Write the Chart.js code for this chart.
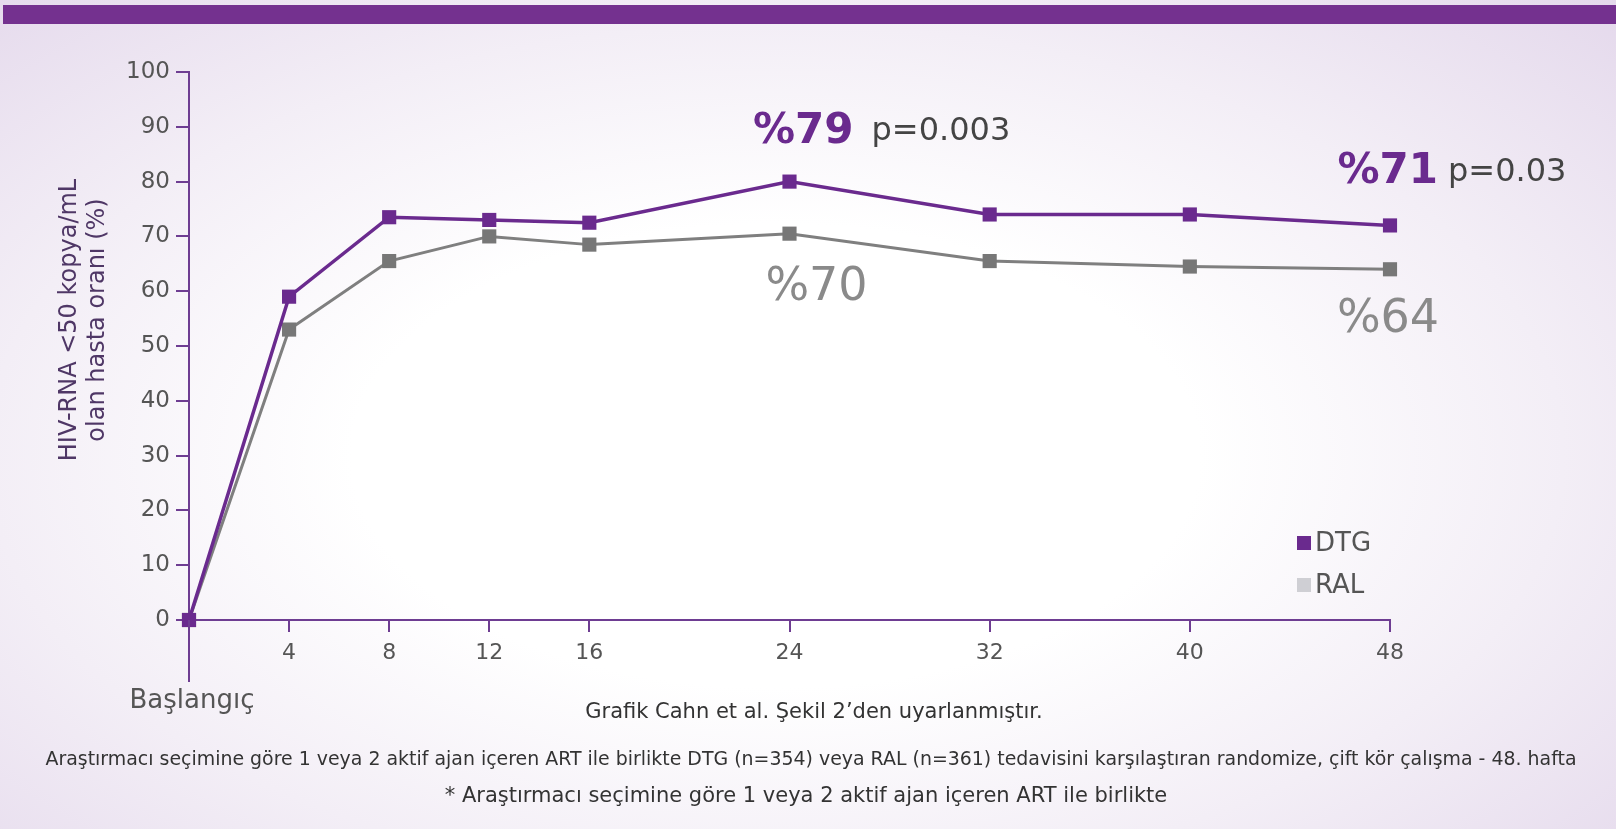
<!DOCTYPE html>
<html>
<head>
<meta charset="utf-8">
<script src="https://cdn.jsdelivr.net/npm/chart.js@4/dist/chart.umd.min.js"></script>
<style>
   html, body { margin: 0; padding: 0; }
   body {
      width: 1616px; height: 829px; overflow: hidden; position: relative;
      background: radial-gradient(ellipse 75% 80% at 48% 55%, #ffffff 35%, #f3eef6 65%, #e3d7eb 100%);
   }
   .band { position: absolute; left: 3px; top: 5px; width: 1613px; height: 19px; background: #74318f; }
   canvas { position: absolute; left: 0; top: 0; }
</style>
</head>
<body>
<div class="band"></div>
<canvas id="chart" width="1616" height="829"></canvas>
<script>
const
   weeks = [0, 4, 8, 12, 16, 24, 32, 40, 48],
   weekTicks = [0, 4, 8, 12, 16, 24, 32, 40, 48],
   dtgValues = [0, 59, 73.5, 73, 72.5, 80, 74, 74, 72],
   ralValues = [0, 53, 65.5, 70, 68.5, 70.5, 65.5, 64.5, 64],
   startLabel = 'Başlangıç',
   yTitle = ['HIV-RNA <50 kopya/mL', 'olan hasta oranı (%)'],
   notes = [
      'Grafik Cahn et al. Şekil 2’den uyarlanmıştır.',
      'Araştırmacı seçimine göre 1 veya 2 aktif ajan içeren ART ile birlikte DTG (n=354) veya RAL (n=361) tedavisini karşılaştıran randomize, çift kör çalışma - 48. hafta',
      '* Araştırmacı seçimine göre 1 veya 2 aktif ajan içeren ART ile birlikte'
   ];

const FONT = '"DejaVu Sans", sans-serif';
const axisColor = '#6e3d92';
const textColor = '#555555';
const dtgColor = '#6a2a8e';
const ralColor = '#7f7f7f';

// Metinler, eksen uzantısı ve lejant
const extras = {
   id: 'extras',
   afterDatasetsDraw(chart) {
      const { ctx, chartArea, scales: { x, y } } = chart;
      ctx.save();

      // Başlangıç çizgisi aşağı uzanıyor
      const x0 = x.getPixelForValue(0);
      ctx.strokeStyle = axisColor;
      ctx.lineWidth = 2;
      ctx.beginPath();
      ctx.moveTo(x0, chartArea.bottom);
      ctx.lineTo(x0, chartArea.bottom + 62);
      ctx.stroke();

      ctx.fillStyle = textColor;
      ctx.font = '26px ' + FONT;
      ctx.textAlign = 'center';
      ctx.textBaseline = 'middle';
      ctx.fillText(startLabel, x0 + 3, chartArea.bottom + 81);

      // Y ekseni başlığı
      ctx.save();
      ctx.translate(70, 320);
      ctx.rotate(-Math.PI / 2);
      ctx.fillStyle = '#4f3766';
      ctx.font = '24px ' + FONT;
      ctx.fillText(yTitle[0], 0, 0, 292);
      ctx.fillText(yTitle[1], 0, 28, 264);
      ctx.restore();

      // Hafta 24 ve 48 etiketleri
      const d = chart.data.datasets;
      const pt = (ds, w) => ({ px: x.getPixelForValue(w), py: y.getPixelForValue(ds.data.find(p => p.x === w).y) });

      let p = pt(d[0], 24);
      ctx.textAlign = 'right';
      ctx.fillStyle = dtgColor;
      ctx.font = 'bold 42px ' + FONT;
      ctx.fillText('%79', p.px + 64, p.py - 50);
      ctx.textAlign = 'left';
      ctx.fillStyle = '#444';
      ctx.font = '32px ' + FONT;
      ctx.fillText('p=0.003', p.px + 82, p.py - 50);

      p = pt(d[1], 24);
      ctx.textAlign = 'center';
      ctx.fillStyle = '#8a8a8a';
      ctx.font = '46px ' + FONT;
      ctx.fillText('%70', p.px + 27, p.py + 54);

      p = pt(d[0], 48);
      ctx.textAlign = 'right';
      ctx.fillStyle = dtgColor;
      ctx.font = 'bold 42px ' + FONT;
      ctx.fillText('%71', p.px + 48, p.py - 53);
      ctx.textAlign = 'left';
      ctx.fillStyle = '#444';
      ctx.font = '32px ' + FONT;
      ctx.fillText('p=0.03', p.px + 58, p.py - 53);

      p = pt(d[1], 48);
      ctx.textAlign = 'center';
      ctx.fillStyle = '#8a8a8a';
      ctx.font = '46px ' + FONT;
      ctx.fillText('%64', p.px - 2, p.py + 51);

      // Lejant
      ctx.font = '26px ' + FONT;
      ctx.textAlign = 'left';
      d.forEach((ds, i) => {
         const ly = chartArea.bottom - 77 + i * 42;
         ctx.fillStyle = ds.legendColor;
         ctx.fillRect(chartArea.right - 93, ly - 7, 14, 14);
         ctx.fillStyle = textColor;
         ctx.fillText(ds.label, chartArea.right - 75, ly + 1);
      });

      // Alt notlar
      ctx.fillStyle = '#333';
      ctx.textAlign = 'center';
      ctx.font = '21px ' + FONT;
      ctx.fillText(notes[0], 814, 713, 475);
      ctx.font = '20px ' + FONT;
      ctx.fillText(notes[1], 811, 760, 1531);
      ctx.font = '21px ' + FONT;
      ctx.fillText(notes[2], 806, 797, 737);

      ctx.restore();
   }
};

new Chart(document.getElementById('chart'), {
   type: 'line',
   data: {
      datasets: [
         {
            label: 'DTG',
            data: weeks.map((w, i) => ({ x: w, y: dtgValues[i] })),
            borderColor: dtgColor,
            backgroundColor: dtgColor,
            legendColor: '#6a2a8e',
            borderWidth: 3.5,
            pointStyle: 'rect',
            pointRadius: 10,
            pointBorderWidth: 0,
            tension: 0,
            clip: false
         },
         {
            label: 'RAL',
            data: weeks.map((w, i) => ({ x: w, y: ralValues[i] })),
            borderColor: ralColor,
            backgroundColor: '#777777',
            legendColor: '#cfcfd4',
            borderWidth: 3,
            pointStyle: 'rect',
            pointRadius: 10,
            pointBorderWidth: 0,
            tension: 0,
            clip: false
         }
      ]
   },
   options: {
      responsive: false,
      animation: false,
      layout: { padding: { top: 72, right: 226, bottom: 0, left: 0 } },
      plugins: { legend: { display: false }, tooltip: { enabled: false } },
      scales: {
         x: {
            type: 'linear',
            min: 0,
            max: 48,
            afterBuildTicks: (scale) => { scale.ticks = weekTicks.map(v => ({ value: v })); },
            afterFit: (scale) => { scale.height = 209; },
            ticks: {
               color: textColor,
               font: { family: FONT, size: 22 },
               padding: 8,
               maxRotation: 0,
               callback: (v) => v === 0 ? '' : String(v)
            },
            grid: { drawOnChartArea: false, color: axisColor, tickLength: 12, lineWidth: 2 },
            border: { color: axisColor, width: 2 }
         },
         y: {
            min: 0,
            max: 100,
            afterFit: (scale) => { scale.width = 189; },
            ticks: {
               stepSize: 10,
               color: textColor,
               font: { family: FONT, size: 23 },
               padding: 6
            },
            grid: { drawOnChartArea: false, color: axisColor, tickLength: 13, lineWidth: 2 },
            border: { color: axisColor, width: 2 }
         }
      }
   },
   plugins: [extras]
});
</script>
</body>
</html>
